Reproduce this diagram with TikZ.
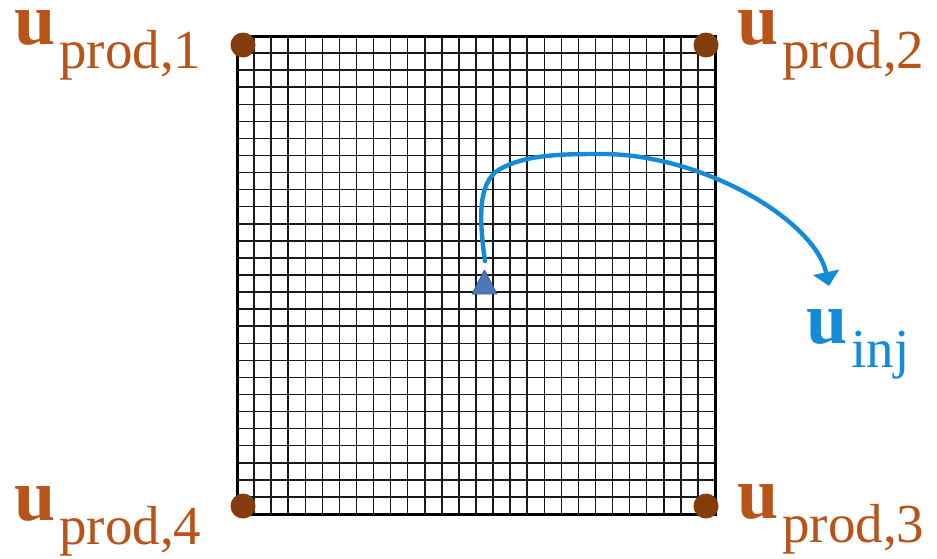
\documentclass[tikz,border=0pt]{standalone}
\usepackage{fontspec}
\setmainfont{Liberation Serif}
\usetikzlibrary{arrows.meta}
\definecolor{prodtext}{HTML}{B85419}
\definecolor{proddot}{HTML}{843C0C}
\definecolor{injblue}{HTML}{148BD8}
\definecolor{trifill}{HTML}{4A78B8}
\definecolor{triedge}{HTML}{3A5F92}
\newcommand{\ulab}[1]{\smash{{\fontsize{74pt}{74pt}\selectfont\bfseries u}\hspace{4pt}\raisebox{-24pt}{\fontsize{55pt}{55pt}\selectfont #1}}}
\begin{document}
\begin{tikzpicture}[x=1pt,y=-1pt,
  gridline/.style={line width=1.5pt,black!90},
  border/.style={draw=black,line width=3pt,minimum size=478pt,inner sep=0pt},
  proddotstyle/.style={circle,fill=proddot,minimum size=25pt,inner sep=0pt},
  prodlabel/.style={anchor=base west,inner sep=0pt,text=prodtext},
  injlabel/.style={anchor=base west,inner sep=0pt,text=injblue},
  injarrow/.style={draw=injblue,line width=4.4pt,line cap=round,-{Triangle[width=26pt,length=14pt]}},
  injtri/.style={fill=trifill,draw=triedge,line width=0.8pt,line join=round}]
\useasboundingbox (0,0) rectangle (937,558);
% grid: 28 x 28 cells
\foreach \p in {254.07,271.14,288.21,305.29,322.36,339.43,356.50,373.57,390.64,407.71,424.79,441.86,458.93,476.00,493.07,510.14,527.21,544.29,561.36,578.43,595.50,612.57,629.64,646.71,663.79,680.86,697.93} {
  \draw[gridline] (\p,36) -- (\p,514);
}
\foreach \q in {53.07,70.14,87.21,104.29,121.36,138.43,155.50,172.57,189.64,206.71,223.79,240.86,257.93,275.00,292.07,309.14,326.21,343.29,360.36,377.43,394.50,411.57,428.64,445.71,462.79,479.86,496.93} {
  \draw[gridline] (237,\q) -- (715,\q);
}
\node[border] (field) at (476,275) {};
% producer dots
\node[proddotstyle] (p1) at (243,45) {};
\node[proddotstyle] (p2) at (706,45) {};
\node[proddotstyle] (p3) at (706,506) {};
\node[proddotstyle] (p4) at (243,506) {};
% labels
\node[prodlabel] (l1) at (14,44) {\ulab{prod,1}};
\node[prodlabel] (l2) at (737,44) {\ulab{prod,2}};
\node[prodlabel] (l3) at (737,518) {\ulab{prod,3}};
\node[prodlabel] (l4) at (14,520) {\ulab{prod,4}};
% injector
\filldraw[injtri] (472,294) -- (484.5,270) -- (497,294) -- cycle;
\coordinate (inj) at (485,261);
\coordinate (tip) at (829,286);
\draw[injarrow] (inj) .. controls (480,225) and (476,182) .. (500,169)
  .. controls (525,155) and (560,154) .. (597,154)
  .. controls (700,152) and (815,220) .. (tip);
\node[injlabel] (linj) at (806,343) {\ulab{inj}};
\end{tikzpicture}
\end{document}
